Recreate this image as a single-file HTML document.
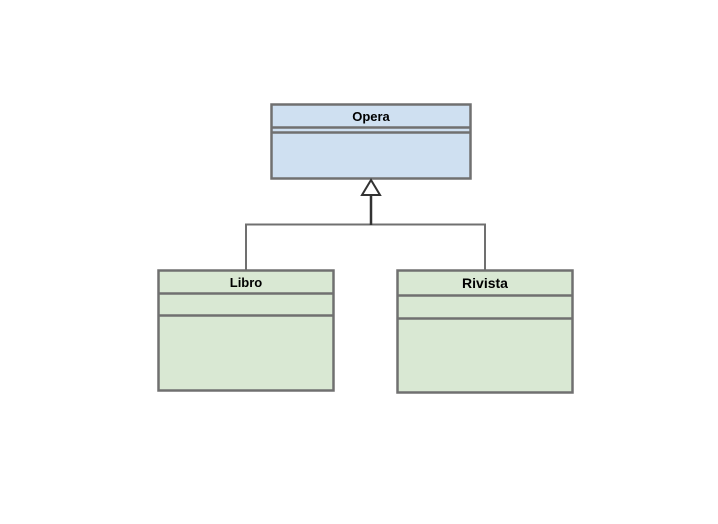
<!DOCTYPE html>
<html><head><style>body{margin:0;background:#fff}</style></head><body>
<svg width="718" height="519" xmlns="http://www.w3.org/2000/svg" font-family="Liberation Sans, sans-serif" font-weight="bold">
<g stroke="#707070" stroke-width="2.5">
<rect x="271.5" y="104.5" width="199" height="74" fill="#cfe0f1"/>
<line x1="271" y1="127.5" x2="471" y2="127.5"/>
<line x1="271" y1="132.5" x2="471" y2="132.5"/>
<rect x="158.5" y="270.5" width="175" height="120" fill="#d9e8d3"/>
<line x1="158" y1="293.5" x2="333" y2="293.5"/>
<line x1="158" y1="315.5" x2="333" y2="315.5"/>
<rect x="397.5" y="270.5" width="175" height="122" fill="#d9e8d3"/>
<line x1="397" y1="295.5" x2="572" y2="295.5"/>
<line x1="397" y1="318.5" x2="572" y2="318.5"/>
</g>
<g stroke="#707070" stroke-width="2" fill="none">
<polyline points="246,270 246,224.5 485,224.5 485,270"/>
</g>
<line x1="371" y1="195" x2="371" y2="225" stroke="#333" stroke-width="2.5"/>
<polygon points="371,180 362,195 380,195" fill="#fff" stroke="#333" stroke-width="2"/>
<text x="371" y="121" font-size="13" text-anchor="middle">Opera</text>
<text x="246" y="287" font-size="13" text-anchor="middle">Libro</text>
<text x="485" y="288" font-size="14" text-anchor="middle">Rivista</text>
</svg>
</body></html>
